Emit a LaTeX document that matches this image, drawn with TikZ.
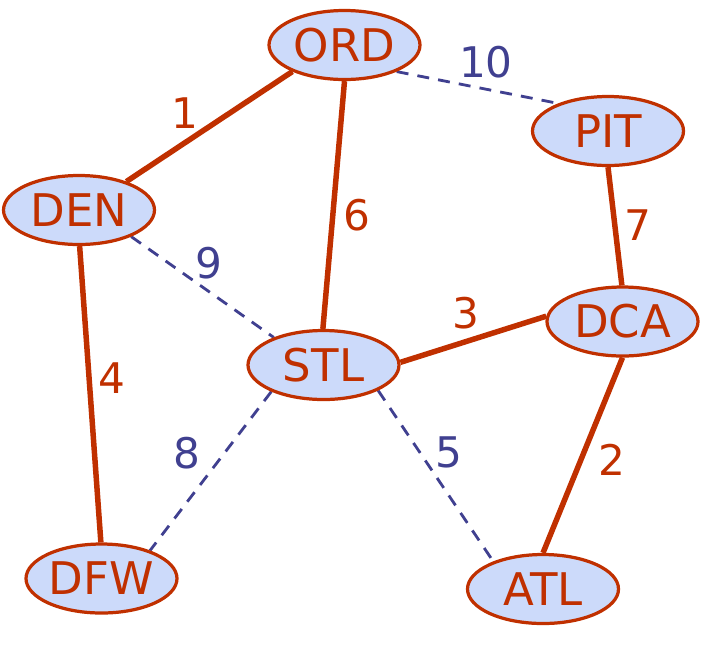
\documentclass[tikz,border=0pt]{standalone}
\usepackage{fontspec}
\setmainfont{DejaVu Sans}
\usetikzlibrary{shapes.geometric,backgrounds}
\definecolor{routered}{RGB}{192,48,0}
\definecolor{cityfill}{RGB}{204,218,250}
\definecolor{dashblue}{RGB}{64,64,144}
\newcommand{\px}{0.025cm}
\newcommand{\bigfont}{\fontsize{32}{38}\selectfont}
\newcommand{\wfont}{\fontsize{30}{36}\selectfont}

\tikzset{
  city/.style={ellipse, draw=routered, fill=cityfill, line width=2.3pt,
    minimum width=151*\px, minimum height=69*\px, inner sep=0pt,
    text=routered, font=\bigfont},
  used/.style={draw=routered, line width=3.9pt},
  unused/.style={draw=dashblue, line width=2pt, dash pattern=on 8.5pt off 6.5pt},
  wred/.style={text=routered, font=\wfont, inner sep=0pt},
  wblue/.style={text=dashblue, font=\wfont, inner sep=0pt}
}

\begin{document}
\begin{tikzpicture}[x=\px, y=-\px]
\useasboundingbox (0,0) rectangle (701,646);
\node[city] (ord) at (344.5, 45.0) {ORD};
\node[city] (den) at (79.0, 210.0) {DEN};
\node[city] (pit) at (608.0, 131.0) {PIT};
\node[city] (stl) at (323.5, 365.0) {STL};
\node[city] (dca) at (622.5, 321.5) {DCA};
\node[city] (dfw) at (101.5, 578.5) {DFW};
\node[city] (atl) at (543.0, 589.0) {ATL};
%weights
\node[wred] (w1) at (185, 113) {1};
\node[wblue] (w10) at (486, 62) {10};
\node[wred] (w6) at (357, 215) {6};
\node[wred] (w7) at (638, 225) {7};
\node[wblue] (w9) at (209, 263) {9};
\node[wred] (w3) at (466, 313) {3};
\node[wred] (w4) at (112, 378) {4};
\node[wblue] (w8) at (187, 453) {8};
\node[wblue] (w5) at (449, 452) {5};
\node[wred] (w2) at (612, 460) {2};
%edges
\begin{scope}[on background layer]
\draw[used] (ord.207) -- (den.31);
\draw[used] (ord.270) -- (stl.91);
\draw[unused] (ord.333) -- (pit.151);
\draw[used] (pit.270) -- (dca.91);
\draw[unused] (den.333) -- (stl.151);
\draw[used] (den.271) -- (dfw.91);
\draw[used] (stl.2) -- (dca.176);
\draw[unused] (stl.207) -- (dfw.30);
\draw[unused] (stl.335) -- (atl.151);
\draw[used] (dca.270) -- (atl.90);
\end{scope}
\end{tikzpicture}
\end{document}
